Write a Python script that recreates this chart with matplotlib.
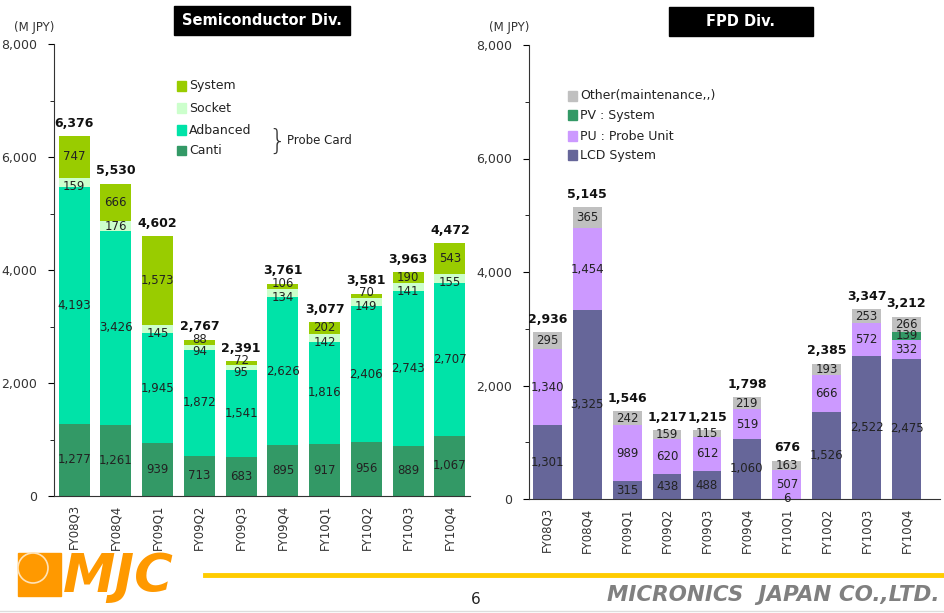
import numpy as np
import matplotlib.pyplot as plt
from matplotlib.patches import Rectangle, Ellipse
from matplotlib.lines import Line2D

plt.rcParams['font.family'] = ['DejaVu Sans']

# quarters shown on both charts
quarters = ["FY08Q3", "FY08Q4", "FY09Q1", "FY09Q2", "FY09Q3",
            "FY09Q4", "FY10Q1", "FY10Q2", "FY10Q3", "FY10Q4"]

# Semiconductor Div. (M JPY)
semi_canti = [1277, 1261, 939, 713, 683, 895, 917, 956, 889, 1067]
semi_adv = [4193, 3426, 1945, 1872, 1541, 2626, 1816, 2406, 2743, 2707]
semi_socket = [159, 176, 145, 94, 95, 134, 142, 149, 141, 155]
semi_system = [747, 666, 1573, 88, 72, 106, 202, 70, 190, 543]
semi_total = [6376, 5530, 4602, 2767, 2391, 3761, 3077, 3581, 3963, 4472]

# FPD Div. (M JPY)
fpd_lcd = [1301, 3325, 315, 438, 488, 1060, 6, 1526, 2522, 2475]
fpd_pu = [1340, 1454, 989, 620, 612, 519, 507, 666, 572, 332]
fpd_pv = [0, 0, 0, 0, 0, 0, 0, 0, 0, 139]
fpd_other = [295, 365, 242, 159, 115, 219, 163, 193, 253, 266]
fpd_total = [2936, 5145, 1546, 1217, 1215, 1798, 676, 2385, 3347, 3212]

W, H = 945, 613
fig = plt.figure(figsize=(W / 100, H / 100), dpi=100)


def box(x0, y0, x1, y1):
    # pixel box -> figure fraction rect
    return [x0 / W, 1 - y1 / H, (x1 - x0) / W, (y1 - y0) / H]


def draw_stack(ax, series, colors, totals, width, nudge=None):
    x = np.arange(len(quarters))
    bottom = np.zeros(len(quarters))
    for k, (vals, col) in enumerate(zip(series, colors)):
        vals = np.array(vals, dtype=float)
        ax.bar(x, vals, width, bottom=bottom, color=col, linewidth=0)
        for i, v in enumerate(vals):
            if v > 0:
                y = bottom[i] + v / 2
                # spread thin stacked labels apart a little like the original
                if nudge and k in nudge and v < 160:
                    y += nudge[k]
                ax.text(x[i], y, f"{int(v):,}", ha="center",
                        va="center", fontsize=8.5, color="#222222")
        bottom += vals
    for i, t in enumerate(totals):
        ax.text(x[i], bottom[i] + 110, f"{t:,}", ha="center", va="bottom",
                fontsize=9, fontweight="bold", color="#111111")


def style_axis(ax):
    ax.set_ylim(0, 8000)
    ax.set_yticks([0, 2000, 4000, 6000, 8000])
    ax.set_yticks(np.arange(1000, 8000, 2000), minor=True)
    ax.yaxis.set_major_formatter(lambda v, p: f"{int(v):,}")
    ax.tick_params(axis="y", direction="out", length=4, labelsize=9,
                   labelcolor="#333333", pad=8)
    ax.tick_params(axis="y", which="minor", direction="out", length=3)
    ax.tick_params(axis="x", length=0, labelsize=8.5, pad=6, labelcolor="#333333")
    ax.set_xticks(np.arange(len(quarters)))
    ax.set_xticklabels(quarters, rotation=90)
    for s in ["top", "right"]:
        ax.spines[s].set_visible(False)
    ax.spines["left"].set_color("#333333")
    ax.spines["bottom"].set_color("#333333")


# Semiconductor chart
ax1 = fig.add_axes(box(54, 44, 470, 496))
draw_stack(ax1, [semi_canti, semi_adv, semi_socket, semi_system],
           ["#339966", "#00E3A8", "#CCFFCC", "#99CC00"], semi_total, 0.74,
           nudge={2: -80, 3: 50})
ax1.set_xlim(-0.48, 9.48)
style_axis(ax1)

# FPD chart
ax2 = fig.add_axes(box(529, 45, 940, 499))
draw_stack(ax2, [fpd_lcd, fpd_pu, fpd_pv, fpd_other],
           ["#666699", "#CC99FF", "#339966", "#C0C0C0"], fpd_total, 0.72)
ax2.set_xlim(-0.46, 9.84)
style_axis(ax2)

# (M JPY) unit labels
fig.text(14 / W, 1 - 27 / H, "(M JPY)", fontsize=8.5, va="center", color="#333333")
fig.text(489 / W, 1 - 27 / H, "(M JPY)", fontsize=8.5, va="center", color="#333333")

# black title boxes
for x0, y0, x1, y1, label in [(174, 6, 350, 35, "Semiconductor Div."),
                              (669, 7, 813, 36, "FPD Div.")]:
    fig.patches.append(Rectangle((x0 / W, 1 - y1 / H), (x1 - x0) / W, (y1 - y0) / H,
                                 transform=fig.transFigure, color="black"))
    fig.text((x0 + x1) / 2 / W, 1 - (y0 + y1) / 2 / H, label, color="white",
             fontsize=10.5, fontweight="bold", ha="center", va="center")

# legends drawn as swatches
semi_leg = [("System", "#99CC00", 86), ("Socket", "#CCFFCC", 108),
            ("Adbanced", "#00E3A8", 130), ("Canti", "#339966", 150)]
for name, col, yy in semi_leg:
    fig.patches.append(Rectangle((177 / W, 1 - (yy + 4.5) / H), 9 / W, 9 / H,
                                 transform=fig.transFigure, color=col))
    fig.text(189 / W, 1 - yy / H, name, fontsize=9, va="center", color="#222222")
fig.text(268 / W, 1 - 142 / H, "}", fontsize=20, va="center", color="#333333",
         fontweight="light")
fig.text(287 / W, 1 - 141 / H, "Probe Card", fontsize=8.5, va="center", color="#222222")

fpd_leg = [("Other(maintenance,,)", "#C0C0C0", 96), ("PV : System", "#339966", 115),
           ("PU : Probe Unit", "#CC99FF", 136), ("LCD System", "#666699", 155)]
for name, col, yy in fpd_leg:
    fig.patches.append(Rectangle((568 / W, 1 - (yy + 4.5) / H), 9 / W, 9 / H,
                                 transform=fig.transFigure, color=col))
    fig.text(580 / W, 1 - yy / H, name, fontsize=9, va="center", color="#222222")

# footer: logo, yellow rule, page number, company name
fig.patches.append(Rectangle((18 / W, 1 - 596 / H), 43 / W, 43 / H,
                             transform=fig.transFigure, color="#FF9900"))
fig.patches.append(Ellipse((33 / W, 1 - 568 / H), 30 / W, 30 / H, transform=fig.transFigure,
                           facecolor="#FF9900", edgecolor="#FFE3B8", linewidth=1.2))
fig.text(63 / W, 1 - 577 / H, "MJC", fontsize=38, fontweight="bold", style="italic",
         color="#FF9900", va="center", ha="left")
fig.lines.append(Line2D([205 / W, 1], [1 - 575 / H, 1 - 575 / H], color="#FFCC00",
                        linewidth=3.5, transform=fig.transFigure))
fig.text(476 / W, 1 - 600 / H, "6", fontsize=11, ha="center", va="center", color="#222222")
fig.text(940 / W, 1 - 595 / H, "MICRONICS  JAPAN CO.,LTD.", fontsize=15.5, style="italic",
         fontweight="bold", color="#808080", va="center", ha="right")
fig.lines.append(Line2D([0, 1], [1 - 611 / H, 1 - 611 / H], color="#DDDDDD",
                        linewidth=1, transform=fig.transFigure))

fig.savefig("out.png", dpi=100)
